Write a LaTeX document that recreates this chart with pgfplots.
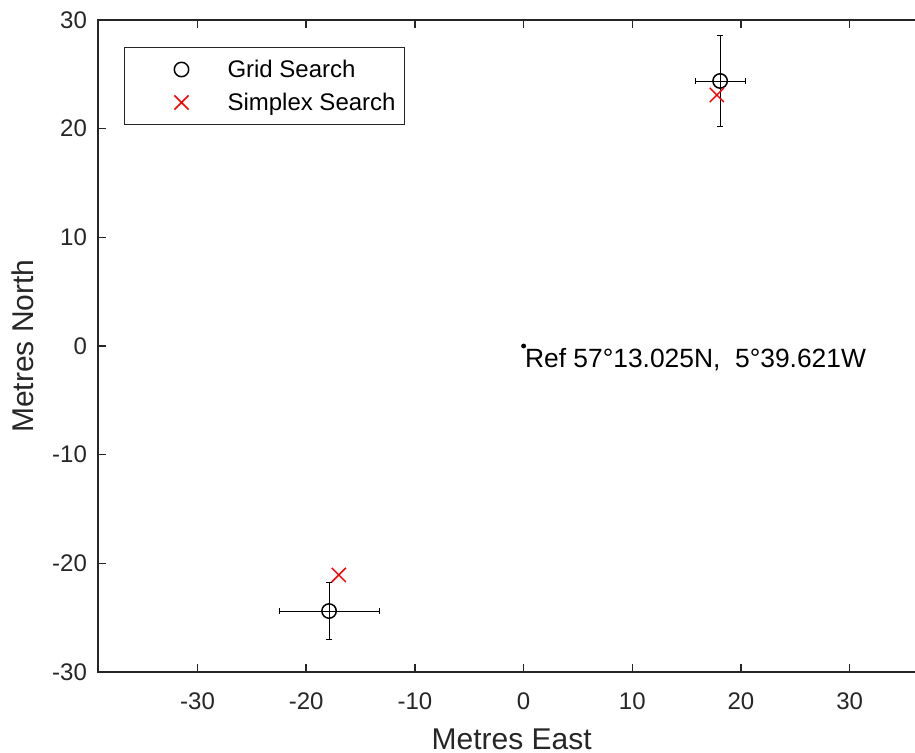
\documentclass[border=0pt]{standalone}
\usepackage{pgfplots}
\pgfplotsset{compat=1.18}
\usepackage{fontspec}
\setmainfont{Liberation Sans}
\definecolor{axgray}{RGB}{38,38,38}
\begin{document}
\begin{tikzpicture}
\begin{axis}[
 name=ax,
 scale only axis,
 width=413.6pt, height=326pt,
 xmin=-39.16, xmax=36.95, ymin=-30, ymax=30,
 xtick={-30,-20,...,30}, ytick={-30,-20,...,30},
 tick align=inside,
 major tick length=4.1pt,
 axis line style={axgray, line width=0.8pt},
 every tick/.style={axgray, line width=0.8pt},
 tick label style={font=\fontsize{12}{14}\selectfont, text=axgray},
 /pgf/number format/assume math mode=true,
 xticklabel style={yshift=-7pt},
 yticklabel style={xshift=-2pt},
 xlabel={Metres East}, ylabel={Metres North},
 label style={font=\fontsize{15}{18}\selectfont, text=axgray},
 xlabel style={at={(axis description cs:0.5,-0.1185)}, anchor=base},
 ylabel style={at={(axis description cs:-0.0774,0.5)}, anchor=base},
 legend style={at={(axis description cs:0.03143,0.9586)}, anchor=north west,
   draw=axgray, line width=0.5pt, inner xsep=4.5pt, inner ysep=5pt,
   row sep=4.5pt, column sep=0pt,
   font=\fontsize{12}{14}\selectfont, cells={anchor=west},
   nodes={inner sep=0pt, text height=10pt, text depth=2pt}},
 legend image code/.code={\path[draw=none,fill=none] (0pt,-5pt) rectangle (47pt,5pt);
   \draw[mark repeat=2,mark phase=2,#1] plot coordinates {(0pt,0pt) (24pt,0pt) (48pt,0pt)};},
]
\addplot[only marks, mark=o, mark size=3.6pt, black, line width=0.75pt,
  error bars/.cd, x dir=both, x explicit, y dir=both, y explicit,
  error bar style={line width=0.45pt, black},
  error mark=|, error mark options={line width=0.55pt, mark size=1.6pt, black}]
 coordinates {(18.08,24.39) +- (2.3,4.15) (-17.9,-24.39) +- (4.6,2.6)};
\addplot[only marks, mark=x, mark size=5pt, red, line width=0.75pt]
 coordinates {(17.78,23.1) (-17.0,-21.07)};
\addplot[only marks, mark=*, mark size=1pt, black, forget plot]
 coordinates {(0,0)};
\node[anchor=north west, inner sep=0pt, xshift=0.5pt, yshift=-1pt, font=\fontsize{13.2}{15}\selectfont] at (axis cs:0,0) {Ref 57°13.025N,\ \ 5°39.621W};
\legend{Grid Search, Simplex Search}
\end{axis}
\pgfresetboundingbox
\useasboundingbox ([xshift=-49pt,yshift=-40.5pt]ax.south west) rectangle ([xshift=408.5pt,yshift=10pt]ax.north west);
\end{tikzpicture}
\end{document}
